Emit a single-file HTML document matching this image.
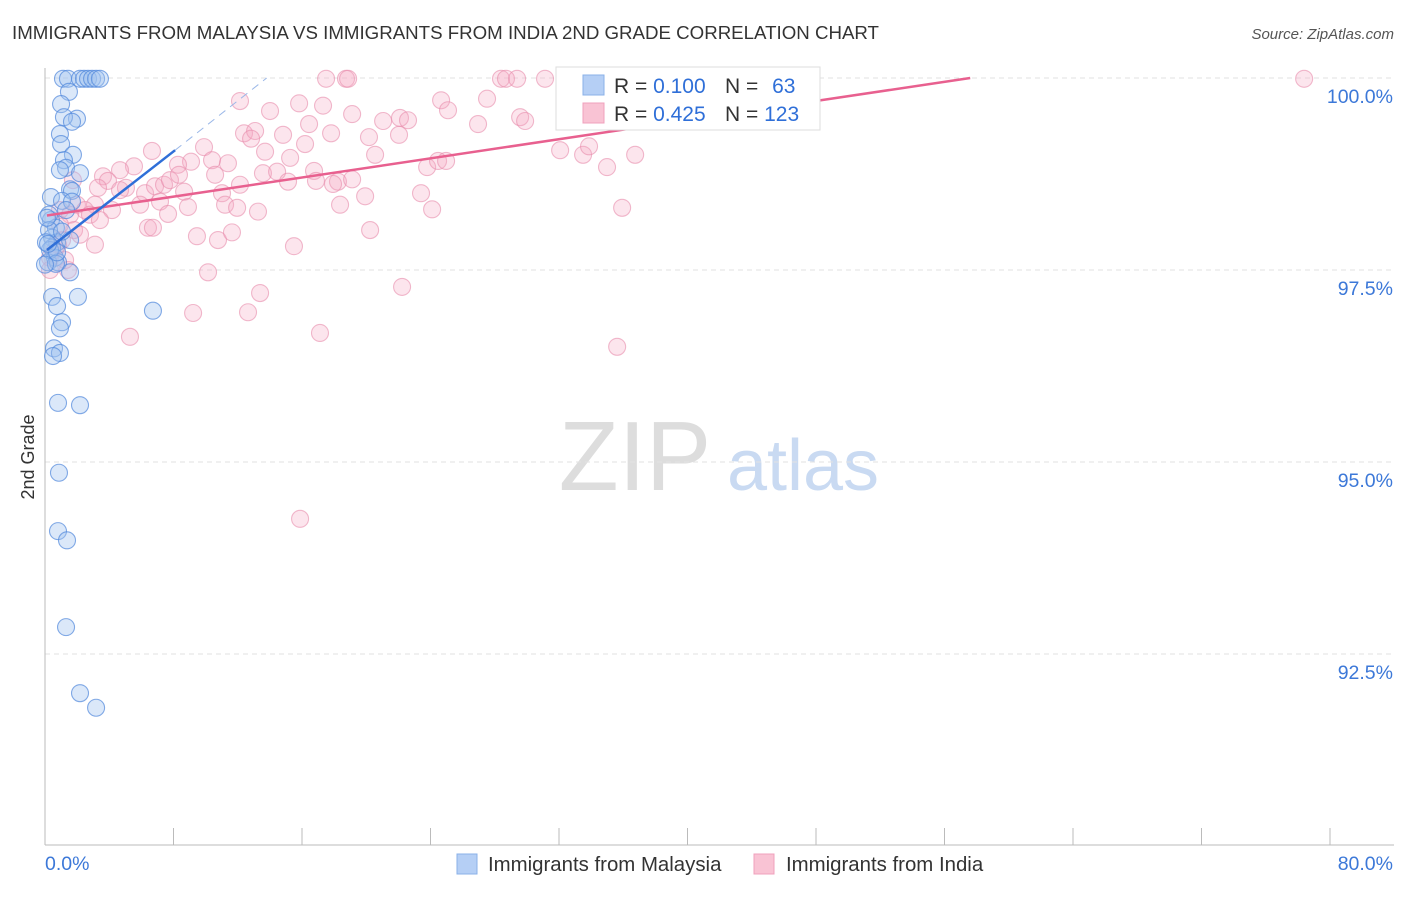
<!DOCTYPE html>
<html><head><meta charset="utf-8"><style>
body{margin:0;background:#fff;font-family:"Liberation Sans",sans-serif}
svg text{font-family:"Liberation Sans",sans-serif}
</style></head><body>
<svg id="chart" width="1406" height="892" xmlns="http://www.w3.org/2000/svg">
<text x="12" y="39" font-size="18.7" fill="#333">IMMIGRANTS FROM MALAYSIA VS IMMIGRANTS FROM INDIA 2ND GRADE CORRELATION CHART</text>
<text x="1394" y="39" font-size="15" fill="#555" text-anchor="end" font-style="italic">Source: ZipAtlas.com</text>
<g>
<text x="635" y="490" font-size="98" fill="#ddd" font-family="Liberation Serif,serif" text-anchor="middle">ZIP</text>
<text x="803" y="490" font-size="72" fill="#c9daf2" text-anchor="middle">atlas</text>
</g>
<g id="grid"></g>
<g id="axes"></g>
<g id="pts"></g>
<g id="trends"></g>
<text transform="translate(34,457) rotate(-90)" font-size="18" fill="#333" text-anchor="middle">2nd Grade</text>
<g>
<rect x="556" y="67" width="264" height="63" fill="#fff" stroke="#ddd"/>
<rect x="583" y="75" width="21" height="20" fill="#b5cff5" stroke="#8ab0e8"/>
<rect x="583" y="103" width="21" height="20" fill="#f9c3d4" stroke="#f0a0bc"/>
<text x="614" y="93" font-size="21" fill="#333">R = <tspan fill="#2f6fd8">0.100</tspan></text>
<text x="725" y="93" font-size="21" fill="#333">N = <tspan fill="#2f6fd8" dx="8">63</tspan></text>
<text x="614" y="121" font-size="21" fill="#333">R = <tspan fill="#2f6fd8">0.425</tspan></text>
<text x="725" y="121" font-size="21" fill="#333">N = <tspan fill="#2f6fd8">123</tspan></text>
</g>
<g>
<rect x="457" y="854" width="20" height="20" fill="#b5cff5" stroke="#8ab0e8"/>
<text x="488" y="871" font-size="20.4" fill="#333">Immigrants from Malaysia</text>
<rect x="754" y="854" width="20" height="20" fill="#f9c3d4" stroke="#f0a0bc"/>
<text x="786" y="871" font-size="20.4" fill="#333">Immigrants from India</text>
</g>
</svg>
<script>
const blueX=[1.12,1.43,2.18,2.43,2.68,2.93,3.18,3.42,1.49,1.0,1.99,1.18,1.68,0.93,1.0,1.74,1.18,1.31,0.93,2.18,1.56,1.68,0.37,1.06,1.68,1.31,0.37,0.68,0.44,0.75,0.44,0.62,0.19,0.81,1.56,0.44,2.05,0.75,1.06,0.93,6.72,0.56,0.93,0.5,0.81,2.18,0.87,0.81,1.37,1.31,2.18,3.18,0.25,0.25,0.31,0.68,0.06,0,1.56,0.75,0.12,1.06,0.19];
const blueY=[99.99,99.99,99.99,99.99,99.99,99.99,99.99,99.99,99.82,99.66,99.47,99.49,99.43,99.27,99.14,99.0,98.93,98.83,98.8,98.76,98.55,98.53,98.45,98.4,98.39,98.28,98.15,98.05,97.92,97.86,97.79,97.66,97.6,97.6,97.47,97.15,97.15,97.03,96.82,96.74,96.97,96.48,96.42,96.38,95.77,95.74,94.86,94.1,93.98,92.85,91.99,91.8,98.22,98.02,97.76,97.58,97.86,97.57,97.89,97.73,98.18,98.0,97.84];
const pinkX=[12.14,14.01,15.82,17.31,19.12,21.05,22.1,22.6,24.66,25.09,27.52,26.96,29.58,29.89,17.5,18.74,18.87,28.39,28.7,29.39,31.13,78.39,12.39,13.08,12.83,14.82,16.44,17.81,20.17,22.04,13.7,15.26,16.19,20.55,9.9,9.09,10.4,11.39,8.28,6.66,5.54,4.67,3.61,3.92,5.04,3.3,6.23,6.85,7.41,7.78,8.34,8.66,11.02,12.14,13.57,14.45,15.13,16.75,16.87,18.24,17.93,19.12,19.93,23.79,24.47,24.97,23.41,24.1,32.07,33.5,33.87,34.99,36.74,35.93,1.74,1.99,3.11,2.49,0.93,1.56,2.8,4.17,5.92,7.16,8.9,11.21,11.96,13.26,18.37,7.66,6.41,6.72,9.46,10.77,11.64,15.5,20.24,1.81,1.06,0.62,0.31,0.81,1.43,3.11,10.15,13.39,9.22,12.64,22.23,17.12,5.29,35.62,15.88,0.93,2.18,0.31,1.25,3.42,4.67,10.59];
const pinkY=[99.7,99.57,99.67,99.64,99.53,99.44,99.48,99.45,99.71,99.58,99.73,99.4,99.49,99.44,99.99,99.99,99.99,99.99,99.99,99.99,99.99,99.99,99.28,99.31,99.21,99.26,99.4,99.28,99.23,99.26,99.04,98.96,99.14,99.0,99.1,98.91,98.93,98.89,98.87,99.05,98.85,98.8,98.72,98.66,98.57,98.57,98.5,98.59,98.61,98.67,98.74,98.52,98.5,98.61,98.76,98.78,98.65,98.79,98.66,98.65,98.62,98.68,98.46,98.84,98.92,98.92,98.5,98.29,99.06,99.0,99.11,98.84,99.0,98.31,98.67,98.35,98.35,98.28,98.28,98.22,98.22,98.28,98.35,98.39,98.32,98.35,98.31,98.26,98.35,98.23,98.05,98.05,97.94,97.89,97.99,97.81,98.02,98.02,97.89,97.76,97.66,97.83,97.5,97.83,97.47,97.2,96.94,96.95,97.28,96.68,96.63,96.5,94.26,98.09,97.96,97.5,97.63,98.15,98.54,98.74];
const yTicks=[100,97.5,95,92.5];
const yTickLabels=["100.0%","97.5%","95.0%","92.5%"];
const xTicks=[0,8,16,24,32,40,48,56,64,72,80];
const blueTrend=[[0.12,97.76],[8.1,99.06]];
const blueTrendDash=[[8.1,99.06],[13.8,100]];
const pinkTrend=[[0.12,98.21],[57.6,100]];
const NS="http://www.w3.org/2000/svg";
const sx=v=>45+v/80*1285;
const sy=v=>78+(100-v)/2.5*192;
function mk(tag,attrs,parent){const e=document.createElementNS(NS,tag);for(const k in attrs)e.setAttribute(k,attrs[k]);parent.appendChild(e);return e;}
const grid=document.getElementById('grid'),axes=document.getElementById('axes'),pts=document.getElementById('pts'),tr=document.getElementById('trends');
yTicks.forEach((t,i)=>{
 const l=mk('line',{x1:45,x2:1394,y1:sy(t),y2:sy(t),stroke:'#e2e2e2','stroke-dasharray':'5,4'},grid);
 
 
 const tx=mk('text',{x:1393,y:sy(t)+25,'font-size':19.5,fill:'#3c78d8','text-anchor':'end'},axes);
 tx.textContent=yTickLabels[i];
 
 
});
const ya=mk('line',{x1:45,x2:45,y1:68,y2:845,stroke:'#bbb'},axes);


const xa=mk('line',{x1:45,x2:1394,y1:845,y2:845,stroke:'#bbb'},axes);


xTicks.forEach(t=>{
 const l=mk('line',{x1:sx(t),x2:sx(t),y1:828,y2:845,stroke:'#bbb'},axes);
 
 
});
const xl0=mk('text',{x:45,y:870,'font-size':19.5,fill:'#3c78d8'},axes);xl0.textContent='0.0%';


const xl1=mk('text',{x:1393,y:870,'font-size':19.5,fill:'#3c78d8','text-anchor':'end'},axes);xl1.textContent='80.0%';


pinkX.forEach((x,i)=>{
 const c=mk('circle',{cx:sx(x),cy:sy(pinkY[i]),r:8.5,fill:'rgba(245,170,195,0.3)',stroke:'rgba(232,140,172,0.6)','stroke-width':1.1},pts);
 
 
});
blueX.forEach((x,i)=>{
 const c=mk('circle',{cx:sx(x),cy:sy(blueY[i]),r:8.5,fill:'rgba(160,195,240,0.38)',stroke:'rgba(80,135,220,0.7)','stroke-width':1.1},pts);
 
 
});
const pl=mk('line',{x1:sx(pinkTrend[0][0]),y1:sy(pinkTrend[0][1]),x2:sx(pinkTrend[1][0]),y2:sy(pinkTrend[1][1]),stroke:'#e8608f','stroke-width':2.5},tr);


const bl=mk('line',{x1:sx(blueTrend[0][0]),y1:sy(blueTrend[0][1]),x2:sx(blueTrend[1][0]),y2:sy(blueTrend[1][1]),stroke:'#2f6fd8','stroke-width':2.5},tr);


const bd=mk('line',{x1:sx(blueTrendDash[0][0]),y1:sy(blueTrendDash[0][1]),x2:sx(blueTrendDash[1][0]),y2:sy(blueTrendDash[1][1]),stroke:'#9bb8e8','stroke-width':1,'stroke-dasharray':'8,6'},tr);


</script>
</body></html>
